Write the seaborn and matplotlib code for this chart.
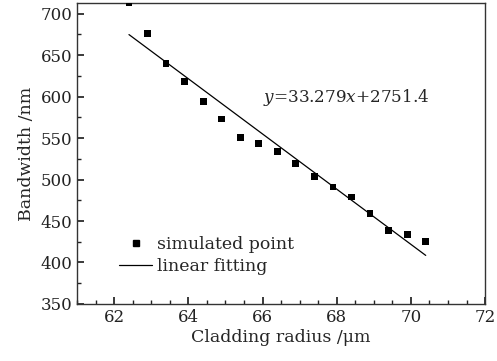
import numpy as np
import pandas as pd
import matplotlib
matplotlib.use("Agg")
import matplotlib.pyplot as plt
import seaborn as sns
from matplotlib.lines import Line2D
from matplotlib.ticker import MultipleLocator

radius = [62.4, 62.9, 63.4, 63.9, 64.4, 64.9, 65.4, 65.9, 66.4, 66.9,
          67.4, 67.9, 68.4, 68.9, 69.4, 69.9, 70.4]
bandwidth = [713, 676, 640, 618, 594, 573, 551, 543, 534, 519,
             504, 491, 479, 459, 439, 434, 425]
fit_slope = -33.279
fit_intercept = 2751.4
fit_x = [62.4, 70.4]
fit_y = [fit_slope * v + fit_intercept for v in fit_x]

sns.set_theme(style="ticks")
plt.rcParams['font.family'] = ['DejaVu Serif']
plt.rcParams['mathtext.fontset'] = 'dejavuserif'

fig = plt.figure(figsize=(4.97, 3.61), dpi=100)
ax = fig.add_axes([0.155, 0.158, 0.821, 0.834])

pts = pd.DataFrame({"x": radius, "y": bandwidth})
fit = pd.DataFrame({"x": fit_x, "y": fit_y})
sns.scatterplot(data=pts, x="x", y="y", marker="s", s=24, color="black",
                edgecolor="none", ax=ax, zorder=3)
sns.lineplot(data=fit, x="x", y="y", color="black", linewidth=0.9, ax=ax)

ax.set_xlim(61, 72)
ax.set_ylim(350, 713)
ax.xaxis.set_major_locator(MultipleLocator(2))
ax.xaxis.set_minor_locator(MultipleLocator(0.5))
ax.yaxis.set_major_locator(MultipleLocator(50))
ax.yaxis.set_minor_locator(MultipleLocator(25))
ax.tick_params(which="both", direction="in", labelsize=12, colors="#222222")
ax.tick_params(which="major", length=5)
ax.tick_params(which="minor", length=3)
for sp in ax.spines.values():
    sp.set_visible(True)
    sp.set_color("#333333")
    sp.set_linewidth(1.0)

ax.set_xlabel("Cladding radius /μm", fontsize=12.5, labelpad=2)
ax.set_ylabel("Bandwidth /nm", fontsize=12.5, labelpad=4)

ax.text(66.0, 599, r"$y$=33.279$x$+2751.4", fontsize=12.2, va="center", ha="left")

handles = [Line2D([], [], marker="s", linestyle="none", color="black", markersize=5),
           Line2D([], [], color="black", linewidth=0.9)]
ax.legend(handles, ["simulated point", "linear fitting"], loc="lower left",
          bbox_to_anchor=(0.082, 0.067), frameon=False, fontsize=12.5,
          handlelength=1.9, handletextpad=0.3, labelspacing=0.3, borderpad=0)

fig.savefig("out.png", dpi=100)
